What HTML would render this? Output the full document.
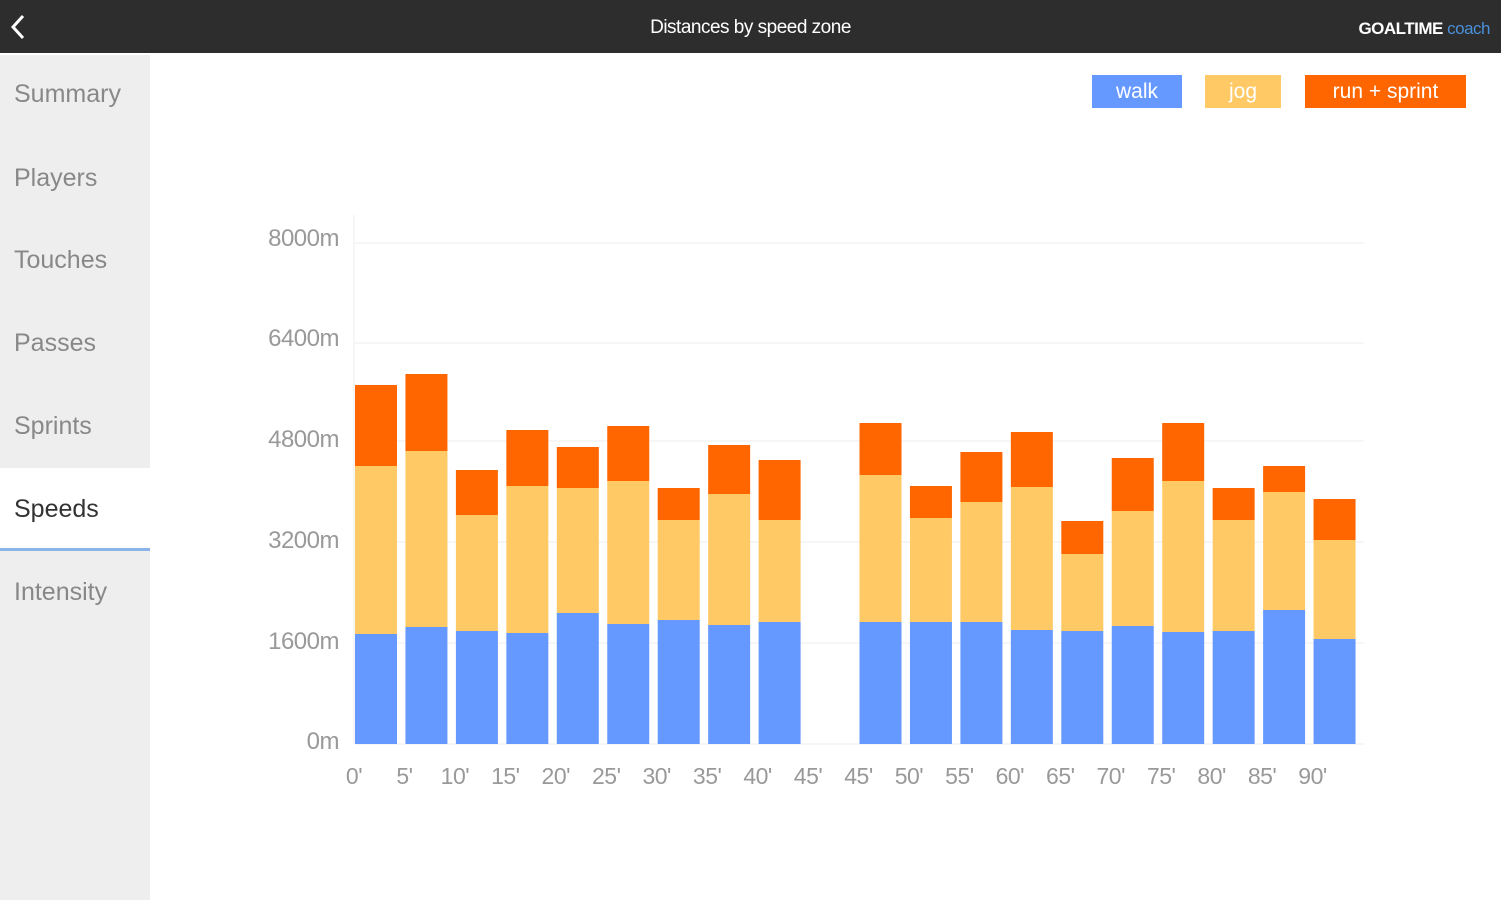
<!DOCTYPE html><html><head><style>
body{margin:0;width:1501px;height:900px;background:#fff;font-family:"Liberation Sans",sans-serif;position:relative;overflow:hidden}
.hdr{position:absolute;left:0;top:0;width:1501px;height:53px;background:#2d2d2d}
.side{position:absolute;left:0;top:55px;width:150px;height:845px;background:#eeeeee}
.it{position:absolute;left:14px;font-size:25px;color:#888}
.sel{position:absolute;left:0;top:468px;width:150px;height:80px;background:#fff;border-bottom:3px solid #8ab4e8}
.lg{position:absolute;top:75px;height:33px;color:#fff;font-size:21px;text-align:center;line-height:33px}
</style></head><body>
<div class="hdr">
<svg style="position:absolute;left:8px;top:14px" width="20" height="26"><path d="M15 2 L5 13 L15 24" stroke="#fff" stroke-width="3" fill="none"/></svg>
<div style="position:absolute;left:0;width:1501px;top:17px;text-align:center;color:#fff;font-size:19px;letter-spacing:-0.5px">Distances by speed zone</div>
<div style="position:absolute;right:11px;top:19px;color:#fff;font-size:17px;font-weight:bold;letter-spacing:-0.5px">GOALTIME <span style="color:#4a90d9;font-weight:normal">coach</span></div>
</div>
<div class="side"></div>
<div class="sel"></div>
<div class="it" style="top:80px">Summary</div>
<div class="it" style="top:164px">Players</div>
<div class="it" style="top:246px">Touches</div>
<div class="it" style="top:329px">Passes</div>
<div class="it" style="top:412px">Sprints</div>
<div class="it" style="top:495px;color:#333">Speeds</div>
<div class="it" style="top:578px">Intensity</div>
<div class="lg" style="left:1092px;width:90px;background:#6699ff">walk</div>
<div class="lg" style="left:1205px;width:76px;background:#ffc966">jog</div>
<div class="lg" style="left:1305px;width:161px;background:#ff6600">run + sprint</div>
<svg style="position:absolute;left:0;top:0" width="1501" height="900">
<g stroke="#eee" stroke-width="1">
<line x1="355" x2="1364" y1="243" y2="243"/><line x1="355" x2="1364" y1="343" y2="343"/><line x1="355" x2="1364" y1="441" y2="441"/><line x1="355" x2="1364" y1="542" y2="542"/><line x1="355" x2="1364" y1="643" y2="643"/><line x1="355" x2="1364" y1="744" y2="744"/>
<line x1="354" x2="354" y1="215" y2="744"/></g>
<g font-size="24" fill="#999" text-anchor="end" font-family="Liberation Sans" letter-spacing="-0.5">
<text x="339" y="246">8000m</text><text x="339" y="346">6400m</text><text x="339" y="447">4800m</text><text x="339" y="548">3200m</text><text x="339" y="649">1600m</text><text x="339" y="749">0m</text></g>
<g id="bars"></g>
<g id="xl" font-size="23" fill="#999" text-anchor="middle" font-family="Liberation Sans" letter-spacing="-0.5"></g>
</svg>
<script>
var d=[[385,466,634],[374,451,627],[470,515,631],[430,486,633],[447,488,613],[426,481,624],[488,520,620],[445,494,625],[460,520,622],null,[423,475,622],[486,518,622],[452,502,622],[432,487,630],[521,554,631],[458,511,626],[423,481,632],[488,520,631],[466,492,610],[499,540,639]];
var L=["0'","5'","10'","15'","20'","25'","30'","35'","40'","45'","45'","50'","55'","60'","65'","70'","75'","80'","85'","90'"];
var s="",t="";
for(var i=0;i<20;i++){var x=355+i*50.45;
if(d[i]){var b=d[i];
s+='<rect x="'+x+'" y="'+b[0]+'" width="42" height="'+(b[1]-b[0])+'" fill="#ff6600"/>';
s+='<rect x="'+x+'" y="'+b[1]+'" width="42" height="'+(b[2]-b[1])+'" fill="#ffc966"/>';
s+='<rect x="'+x+'" y="'+b[2]+'" width="42" height="'+(744-b[2])+'" fill="#6699ff"/>';}
t+='<text x="'+(x-1)+'" y="784">'+L[i]+'</text>';}
document.getElementById("bars").innerHTML=s;document.getElementById("xl").innerHTML=t;
</script>
</body></html>
